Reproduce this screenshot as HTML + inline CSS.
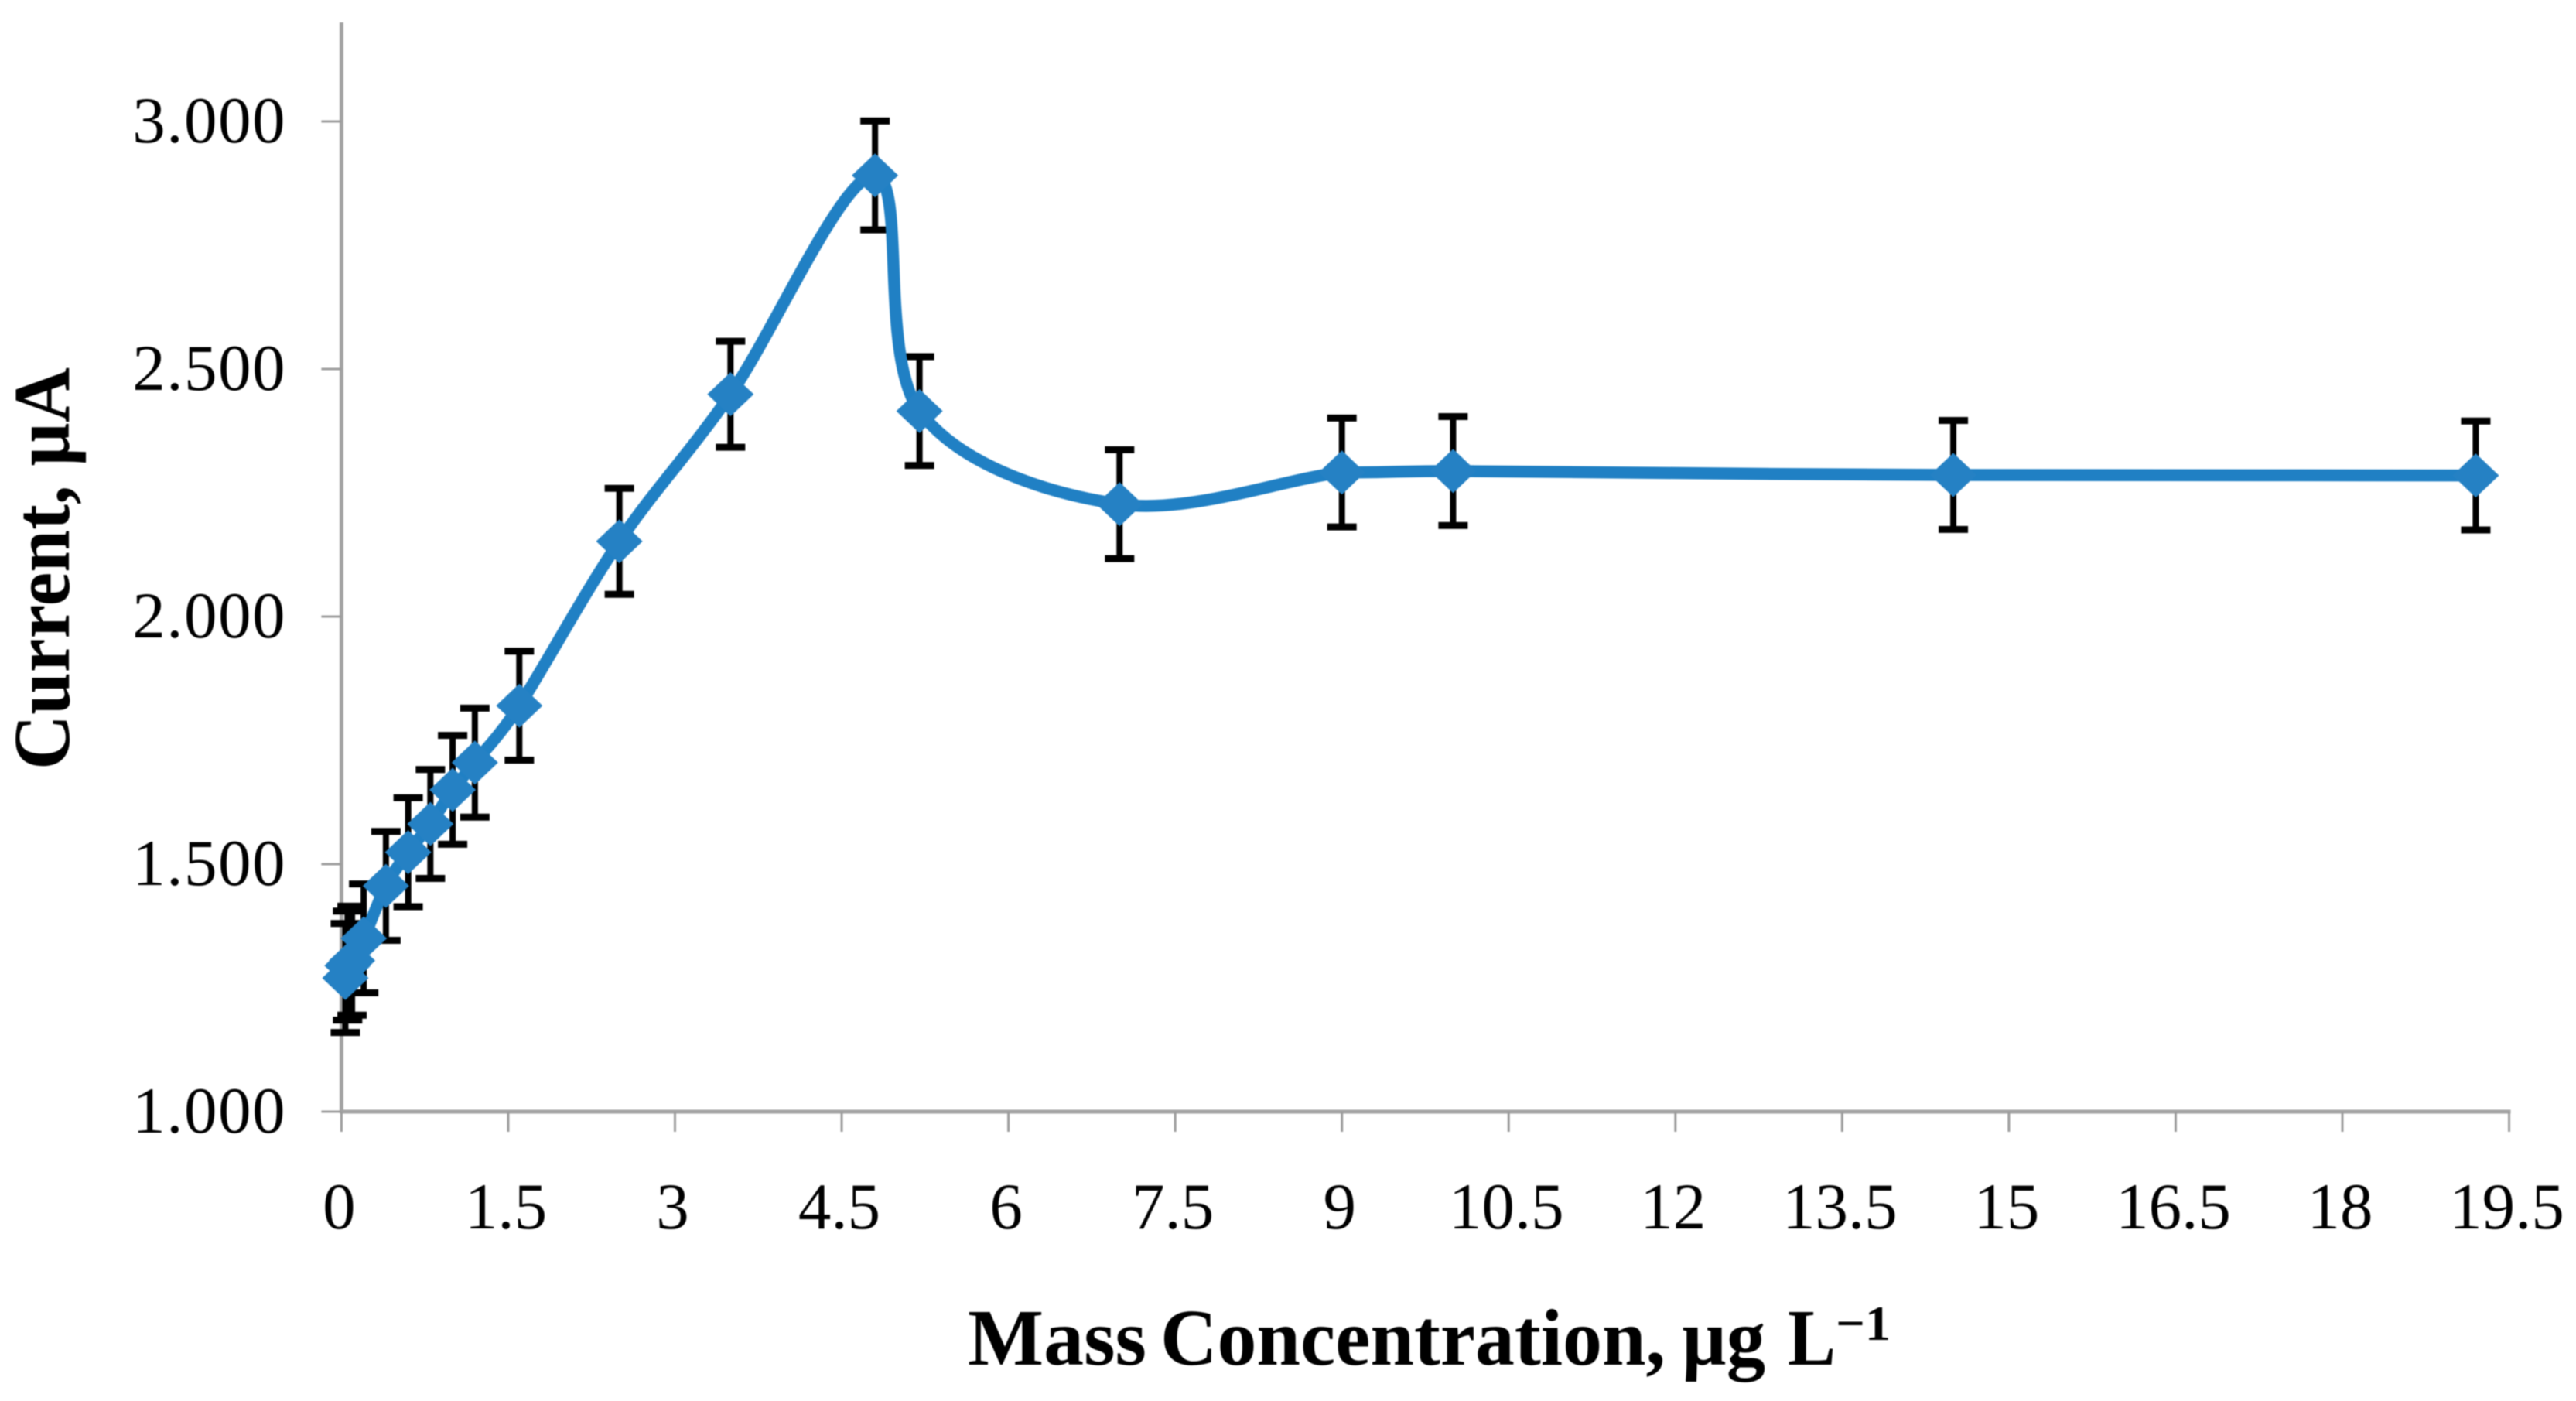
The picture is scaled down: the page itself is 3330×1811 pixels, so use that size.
<!DOCTYPE html>
<html lang="en">
<head>
<meta charset="utf-8">
<title>Current vs Mass Concentration</title>
<style>
html,body{margin:0;padding:0;background:#fff;width:3330px;height:1811px;overflow:hidden}
svg{display:block;filter:blur(0.8px)}
text{font-family:"Liberation Serif",serif;fill:#000}
.tick-label{font-size:85px}
.y-tick{letter-spacing:1.5px}
.axis-title{font-size:104px;font-weight:bold}
</style>
</head>
<body>
<svg id="chart" xmlns="http://www.w3.org/2000/svg" width="3330" height="1811" viewBox="0 0 3330 1811">
  <rect x="0" y="0" width="3330" height="1811" fill="#fff"/>
  <g id="axes"></g>
  <g id="errors"></g>
  <path id="line" fill="none" stroke="#2080c4" stroke-width="15.5" stroke-linejoin="round" stroke-linecap="round"/>
  <g id="markers"></g>
  <g id="labels"></g>
  <text class="axis-title" transform="translate(89,995) rotate(-90)" textLength="520" lengthAdjust="spacingAndGlyphs">Current, µA</text>
  <g class="axis-title">
    <text class="axis-title" x="1251" y="1764" textLength="231" lengthAdjust="spacingAndGlyphs">Mass</text>
    <text class="axis-title" x="1500" y="1764" textLength="653" lengthAdjust="spacingAndGlyphs">Concentration,</text>
    <text class="axis-title" x="2174" y="1764" textLength="108" lengthAdjust="spacingAndGlyphs">µg</text>
    <text class="axis-title" x="2311" y="1764" textLength="62" lengthAdjust="spacingAndGlyphs">L</text>
    <text class="axis-title" x="2373" y="1732" style="font-size:64px" textLength="71" lengthAdjust="spacingAndGlyphs">−1</text>
  </g>
</svg>
<script>
const concentrations = [0.035, 0.055, 0.095, 0.2, 0.4, 0.6, 0.8, 1.0, 1.2, 1.6, 2.5, 3.5, 4.8, 5.2, 7, 9, 10, 14.5, 19.2];
const currents = [1.27, 1.295, 1.305, 1.35, 1.456, 1.524, 1.581, 1.65, 1.705, 1.82, 2.152, 2.449, 2.891, 2.415, 2.227, 2.291, 2.294, 2.286, 2.285];
const currentErrors = [0.11, 0.11, 0.11, 0.11, 0.11, 0.11, 0.11, 0.11, 0.11, 0.11, 0.107, 0.107, 0.11, 0.11, 0.11, 0.11, 0.11, 0.11, 0.11];
const xTickLabels = ["0", "1.5", "3", "4.5", "6", "7.5", "9", "10.5", "12", "13.5", "15", "16.5", "18", "19.5"];
const yTickLabels = ["1.000", "1.500", "2.000", "2.500", "3.000"];
const yAxisMax = 3.2;

const NS = "http://www.w3.org/2000/svg";
const xScale = v => 441.4 + v * 143.7;
const yScale = v => 1437 - (v - 1) * 640;

function make(tag, attrs, parent) {
  const el = document.createElementNS(NS, tag);
  for (const k in attrs) el.setAttribute(k, attrs[k]);
  parent.appendChild(el);
  return el;
}

const axes = document.getElementById("axes");
const labels = document.getElementById("labels");
const errorsG = document.getElementById("errors");
const markersG = document.getElementById("markers");

const yAxisLine = make("line", {x1: xScale(0), x2: xScale(0), y1: yScale(yAxisMax), y2: yScale(1) + 2, stroke: "#a3a3a3", "stroke-width": 5}, axes);



const xAxisLine = make("line", {x1: xScale(0) - 2, x2: xScale(19.5) + 2, y1: yScale(1), y2: yScale(1), stroke: "#a3a3a3", "stroke-width": 5}, axes);



xTickLabels.forEach(label => {
  const v = parseFloat(label);
  const tick = make("line", {x1: xScale(v), x2: xScale(v), y1: yScale(1), y2: yScale(1) + 26, stroke: "#9c9c9c", "stroke-width": 3}, axes);
  
  
  const text = make("text", {x: xScale(v) - 3, y: 1588, "text-anchor": "middle", class: "tick-label"}, labels);
  text.textContent = label;
  
  
});

yTickLabels.forEach(label => {
  const v = parseFloat(label);
  const tick = make("line", {x1: xScale(0) - 26, x2: xScale(0), y1: yScale(v), y2: yScale(v), stroke: "#9c9c9c", "stroke-width": 3}, axes);
  
  
  const text = make("text", {x: 370, y: yScale(v) + 27, "text-anchor": "end", class: "tick-label y-tick"}, labels);
  text.textContent = label;
  
  
});

const pts = concentrations.map((c, i) => [xScale(c), yScale(currents[i])]);

concentrations.forEach((c, i) => {
  const x = xScale(c);
  const top = yScale(currents[i] + currentErrors[i]);
  const bottom = yScale(currents[i] - currentErrors[i]);
  const cap = 19;
  const bar = make("path", {
    d: `M${x} ${top}V${bottom}`,
    stroke: "#000", "stroke-width": 8, fill: "none"
  }, errorsG);
  
  
  const caps = make("path", {
    d: `M${x - cap} ${top}H${x + cap}M${x - cap} ${bottom}H${x + cap}`,
    stroke: "#000", "stroke-width": 9, fill: "none"
  }, errorsG);
  
  
});

function dist(a, b) { return Math.hypot(a[0] - b[0], a[1] - b[1]); }

/* Spreadsheet-style smoothed line through the points; near-level spans stay level */
function smoothPath(p) {
  const n = p.length;
  let d = `M${p[0][0]} ${p[0][1]}`;
  for (let i = 0; i < n - 1; i++) {
    const p0 = p[Math.max(0, i - 1)], p1 = p[i], p2 = p[i + 1], p3 = p[Math.min(n - 1, i + 2)];
    const d02 = dist(p0, p2), d12 = dist(p1, p2), d13 = dist(p1, p3);
    let f, g;
    if (d02 / 6 < d12 / 2 && d13 / 6 < d12 / 2) {
      f = i === 0 ? 1 / 3 : 1 / 6;
      g = i === n - 2 ? 1 / 3 : 1 / 6;
    } else if (d02 / 6 >= d12 / 2 && d13 / 6 >= d12 / 2) {
      f = d12 / 2 / d02;
      g = d12 / 2 / d13;
    } else if (d02 / 6 >= d12 / 2) {
      f = d12 / 2 / d02;
      g = d12 / 2 / d02;
    } else {
      f = d12 / 2 / d13;
      g = d12 / 2 / d13;
    }
    const b1 = [p1[0] + (p2[0] - p0[0]) * f, p1[1] + (p2[1] - p0[1]) * f];
    const b2 = [p2[0] - (p3[0] - p1[0]) * g, p2[1] - (p3[1] - p1[1]) * g];
    if (Math.abs(p2[1] - p1[1]) < 8 && d12 > 100) {
      b1[1] = p1[1];
      b2[1] = p2[1];
    }
    d += `C${b1[0]} ${b1[1]} ${b2[0]} ${b2[1]} ${p2[0]} ${p2[1]}`;
  }
  return d;
}
document.getElementById("line").setAttribute("d", smoothPath(pts));

pts.forEach(pt => {
  const hw = 30, hh = 28.5;
  const marker = make("polygon", {
    points: `${pt[0]},${pt[1] - hh} ${pt[0] + hw},${pt[1]} ${pt[0]},${pt[1] + hh} ${pt[0] - hw},${pt[1]}`,
    fill: "#2581c4"
  }, markersG);
  
  
});
</script>
</body>
</html>
